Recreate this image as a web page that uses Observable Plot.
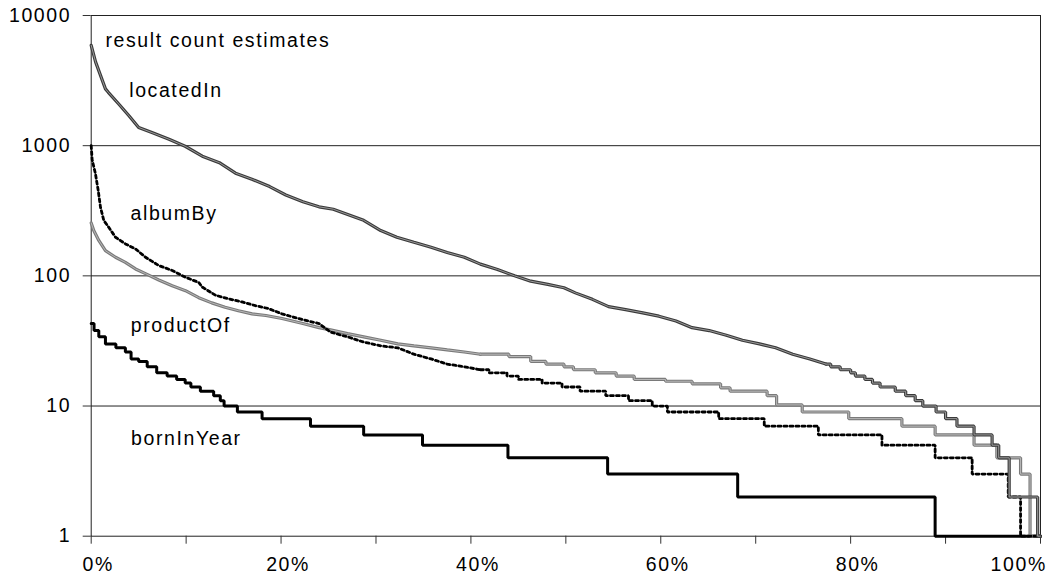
<!DOCTYPE html>
<html>
<head>
<meta charset="utf-8">
<script src="https://cdn.jsdelivr.net/npm/d3@7"></script>
<script src="https://cdn.jsdelivr.net/npm/@observablehq/plot@0.6"></script>
<style>
html, body { margin: 0; padding: 0; background: #fff; }
#chart svg { display: block; }
#chart svg text { letter-spacing: 1.6px; }
</style>
</head>
<body>
<div id="chart"></div>
<script>
// ---- data (x = % of queries, y = result count estimate) ----
const locatedIn = [
  [0,5900],[0.46,4400],[0.98,3470],[1.5,2730],[1.8,2570],[2.9,2090],[4.0,1690],[5.0,1380],
  [6.4,1260],[8.2,1120],[9.9,990],[11.7,830],[13.5,740],[15.2,615],[17.0,550],[18.8,485],
  [20.5,418],[22.3,371],[24.0,339],[25.5,325],[28.7,267],[30.5,223],[32.2,198],[34.0,181],
  [35.8,166],[37.5,151],[39.3,139],[41.0,123],[42.8,112],[44.6,100],[46.3,91],[48.1,86],
  [49.8,81],[51.0,74],[52.8,66],[54.5,58],[56.3,55],[58.1,52],[59.8,49],[61.6,45],[63.3,40],
  [65.1,38],[66.9,35],[68.6,32],[70.4,30],[72.1,28],[73.9,25],[75.7,23],[77.4,21],
  [77.9,20],[78.9,19],[80.0,18],[80.5,17],[81.5,16],[82.3,15],[83.1,14],[84.7,13],[85.8,12],
  [86.8,11],[87.6,10],[89.0,9],[90.0,8],[91.2,7],[93.0,6],[94.9,5],[95.6,4],[96.7,2],[99.7,1],[100,1]
];
const albumBy = [
  [0,1000],[0.1,780],[0.45,607],[0.74,452],[0.98,336],[1.33,266],[1.85,236],[2.56,198],
  [3.61,176],[4.67,161],[5.72,139],[7.12,120],[8.53,110],[9.93,97.5],[11.33,89],[11.69,82],
  [13.09,71],[14.5,66.5],[15.9,63],[17.3,59],[18.7,56],[20.1,51],[22.3,46],[24.0,43],
  [25.2,37],[27.0,34],[28.7,31],[30.5,29],[32.3,28],[34.0,25],[35.8,23],[37.5,21],[39.3,20],
  [41.0,19],[41.9,18],[43.8,17],[45.0,16],[47.5,15],[49.6,14],[51.5,13],[54.2,12],[56.6,11],
  [59.1,10],[60.7,9],[66.1,8],[70.9,7],[76.6,6],[83.3,5],[88.9,4],[92.8,3],[96.6,2],[97.9,1],[100,1]
];
const productOf = [
  [0,255],[0.27,223],[0.8,187],[1.5,156],[2.56,139],[3.6,127],[4.67,113],[5.72,104],
  [7.12,93],[8.53,84],[9.93,77],[11.33,68],[12.7,62],[14.1,57.4],[15.5,54],[16.95,51],
  [18.4,49.6],[20.1,47],[22.3,43],[24.0,40],[25.2,38.5],[27.0,36],[28.7,34],[30.5,32],
  [32.3,30],[34.0,29],[35.8,28],[37.5,27],[39.3,26],[41.0,25],
  [44.0,24],[46.3,22],[47.9,21],[49.8,20],[50.8,19],[53.1,18],[55.3,17],[57.2,16],[60.5,15.5],
  [63.3,14.8],[66.3,13.8],[67.3,13],[71.2,12],[72.2,10.2],[74.9,9],[79.8,8],[85.4,7],[88.9,6],
  [93.0,5],[95.4,4],[97.9,3],[98.9,1],[100,1]
];
const bornInYear = [
  [0,43],[0.3,38],[0.8,34],[1.5,30],[2.6,28],[3.6,26],[4.2,23],[5.0,22],[5.9,20],[6.9,18],
  [8.0,17],[9.0,16],[9.9,15],[10.5,14],[11.5,13],[12.9,12],[13.6,11],[14.0,10],[15.4,9],
  [18.0,8],[23.1,7],[28.7,6],[34.9,5],[43.9,4],[54.4,3],[68.1,2],[88.9,1],[100,1]
];
const seriesNames = ["locatedIn", "albumBy", "productOf", "bornInYear"];
const titleText = "result count estimates";
const yTicks = [1, 10, 100, 1000, 10000];
const yTickLabels = ["1", "10", "100", "1000", "10000"];
const gridValues = [10, 100, 1000];
const xTicks = [0, 10, 20, 30, 40, 50, 60, 70, 80, 90, 100];
const xLabelTicks = [0, 20, 40, 60, 80, 100];
const xTickLabels = ["0%", "20%", "40%", "60%", "80%", "100%"];

// ---- layout / style ----
const font = "'Liberation Sans', Arial, sans-serif";
const X = d => d[0], Y = d => d[1];

function lineMarks(data, splitX, styles) {
  const head = data.filter(d => d[0] <= splitX);
  const tail = data.filter(d => d[0] >= splitX);
  const out = [];
  for (const s of styles) {
    if (head.length > 1) out.push(Plot.line(head, {x: X, y: Y, curve: "linear", strokeLinejoin: "miter", ...s}));
    if (tail.length > 1) out.push(Plot.line(tail, {x: X, y: Y, curve: "step-after", strokeLinejoin: "miter", ...s}));
  }
  return out;
}

const labelOffsets = {locatedIn: [38, 75.5], albumBy: [39.3, 198.1], productOf: [39.6, 310.5], bornInYear: [39.8, 422.8]};
const xLabelIdx = xLabelTicks.map((d, i) => i);

const chart = Plot.plot({
  width: 1056,
  height: 576,
  marginLeft: 90.7,
  marginRight: 16,
  marginTop: 15,
  marginBottom: 40.3,
  style: {fontFamily: font, fontSize: "19.5px", color: "#222", background: "#fff", overflow: "visible"},
  x: {domain: [0, 100]},
  y: {type: "log", domain: [1, 10000]},
  marks: [
    Plot.ruleY(gridValues, {stroke: "#222", strokeWidth: 1}),
    Plot.frame({stroke: "#222", strokeWidth: 1}),
    Plot.axisY({ticks: yTicks, tickSize: 8, tickPadding: 12, stroke: "#333",
      tickFormat: d => yTickLabels[yTicks.indexOf(d)], fill: "#000"}),
    Plot.axisX({ticks: xTicks, tickSize: 8, stroke: "#333", tickFormat: () => ""}),
    Plot.text(xLabelIdx.filter(i => xLabelTicks[i] < 100), {
      x: i => xLabelTicks[i], text: i => xTickLabels[i], frameAnchor: "bottom",
      lineAnchor: "middle", textAnchor: "middle", dy: 29, dx: 7, fill: "#000"}),
    Plot.text(xLabelIdx.filter(i => xLabelTicks[i] === 100), {
      x: i => xLabelTicks[i], text: i => xTickLabels[i], frameAnchor: "bottom",
      lineAnchor: "middle", textAnchor: "end", dy: 29, dx: 6.4, fill: "#000"}),
    // series
    ...lineMarks(bornInYear, 0, [{stroke: "#000", strokeWidth: 3}]),
    ...lineMarks(productOf, 41.0, [{stroke: "#7a7a7a", strokeWidth: 3.2}, {stroke: "#b8b8b8", strokeWidth: 1}]),
    ...lineMarks(albumBy, 41.0, [{stroke: "#000", strokeWidth: 2.8, strokeDasharray: "3,3"}]),
    ...lineMarks(locatedIn, 77.4, [{stroke: "#3a3a3a", strokeWidth: 3.2}, {stroke: "#9a9a9a", strokeWidth: 1}]),
    // annotations
    Plot.text([titleText], {text: d => d, frameAnchor: "top-left", textAnchor: "start",
      lineAnchor: "middle", dx: 14.2, dy: 25.6, fill: "#000"}),
    ...seriesNames.map(name => Plot.text([name], {text: d => d, frameAnchor: "top-left",
      textAnchor: "start", lineAnchor: "middle", dx: labelOffsets[name][0], dy: labelOffsets[name][1], fill: "#000"}))
  ]
});
document.getElementById("chart").appendChild(chart);
</script>
</body>
</html>
